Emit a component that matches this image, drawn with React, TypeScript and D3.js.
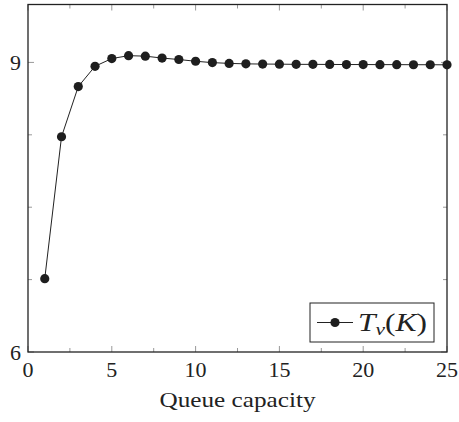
import React, { useEffect, useRef } from "react";
import * as d3 from "d3";

// queue capacity K = 1..25
const capacity = d3.range(1, 26);
// T_nu(K)
const throughput = [
  6.76, 8.23, 8.75, 8.96, 9.04, 9.07, 9.065, 9.045, 9.03, 9.012, 8.998, 8.99,
  8.985, 8.983, 8.982, 8.98, 8.98, 8.979, 8.978, 8.978, 8.977, 8.977, 8.976,
  8.976, 8.975,
];
const xMajor = [0, 5, 10, 15, 20, 25];
const xMinor = [2.5, 7.5, 12.5, 17.5, 22.5];
const yMajor = [6, 9];
const yMinor = [6.75, 7.5, 8.25];

const W = 459;
const H = 422;
const FONT = "Liberation Serif";

export default function App() {
  const ref = useRef<SVGSVGElement>(null);

  useEffect(() => {
    const svg = d3.select(ref.current);
    svg.selectAll("*").remove();

    const left = 28, right = 447, top = 4.5, bottom = 352;
    const x = d3.scaleLinear().domain([0, 25]).range([left, right]);
    const y = d3.scaleLinear().domain([6, 9.6]).range([bottom, top]);

    const g = svg.append("g");

    // ticks (inside, mirrored on all sides)
    const tickCol = "#999";
    const xt = [...xMajor.map((v) => ({ v, l: 6 })), ...xMinor.map((v) => ({ v, l: 4 }))];
    xt.forEach((t) => {
      g.append("line").attr("x1", x(t.v)).attr("x2", x(t.v))
        .attr("y1", bottom).attr("y2", bottom - t.l).attr("stroke", tickCol).attr("stroke-width", 1);
      g.append("line").attr("x1", x(t.v)).attr("x2", x(t.v))
        .attr("y1", top).attr("y2", top + t.l).attr("stroke", tickCol).attr("stroke-width", 1);
    });
    const yt = [...yMajor.map((v) => ({ v, l: 6 })), ...yMinor.map((v) => ({ v, l: 4 }))];
    yt.forEach((t) => {
      g.append("line").attr("x1", left).attr("x2", left + t.l)
        .attr("y1", y(t.v)).attr("y2", y(t.v)).attr("stroke", tickCol).attr("stroke-width", 1);
      g.append("line").attr("x1", right).attr("x2", right - t.l)
        .attr("y1", y(t.v)).attr("y2", y(t.v)).attr("stroke", tickCol).attr("stroke-width", 1);
    });

    // frame
    g.append("rect").attr("x", left).attr("y", top)
      .attr("width", right - left).attr("height", bottom - top)
      .attr("fill", "none").attr("stroke", "#222").attr("stroke-width", 1.3);

    // tick labels
    g.selectAll(".xl").data(xMajor).join("text").attr("class", "xl")
      .attr("x", (d) => x(d)).attr("y", 377)
      .attr("text-anchor", "middle")
      .style("font-family", FONT).attr("font-size", 22).attr("fill", "#222")
      .text((d) => String(d));
    g.selectAll(".yl").data(yMajor).join("text").attr("class", "yl")
      .attr("x", 21).attr("y", (d) => y(d) + 7.5)
      .attr("text-anchor", "end")
      .style("font-family", FONT).attr("font-size", 22).attr("fill", "#222")
      .text((d) => String(d));

    // axis label
    g.append("text").attr("x", (left + right) / 2).attr("y", 407)
      .attr("text-anchor", "middle")
      .style("font-family", FONT).attr("font-size", 22).attr("fill", "#222")
      .attr("textLength", 156).attr("lengthAdjust", "spacingAndGlyphs")
      .text("Queue capacity");

    // series
    const pts = capacity.map((k, i) => [k, throughput[i]] as [number, number]);
    const line = d3.line<[number, number]>().x((d) => x(d[0])).y((d) => y(d[1]));
    g.append("path").datum(pts).attr("d", line)
      .attr("fill", "none").attr("stroke", "#222").attr("stroke-width", 1);
    g.selectAll(".pt").data(pts).join("circle").attr("class", "pt")
      .attr("cx", (d) => x(d[0])).attr("cy", (d) => y(d[1]))
      .attr("r", 4.6).attr("fill", "#1e1e1e");

    // legend
    const lg = g.append("g");
    lg.append("rect").attr("x", 310).attr("y", 303).attr("width", 124).attr("height", 39)
      .attr("fill", "white").attr("stroke", "#222").attr("stroke-width", 1);
    lg.append("line").attr("x1", 317).attr("x2", 353).attr("y1", 322.5).attr("y2", 322.5)
      .attr("stroke", "#222").attr("stroke-width", 1);
    lg.append("circle").attr("cx", 335).attr("cy", 322.5).attr("r", 4.6).attr("fill", "#1e1e1e");
    const t = lg.append("text").attr("x", 358).attr("y", 331)
      .style("font-family", FONT).attr("font-size", 25).attr("fill", "#222")
      .attr("textLength", 69).attr("lengthAdjust", "spacingAndGlyphs");
    t.append("tspan").attr("font-style", "italic").text("T");
    t.append("tspan").attr("font-style", "italic").attr("font-size", 17).attr("dy", 4).text("ν");
    t.append("tspan").attr("dy", -4).text("(");
    t.append("tspan").attr("font-style", "italic").text("K");
    t.append("tspan").text(")");
  }, []);

  return (
    <svg ref={ref} width={W} height={H} style={{ position: "absolute", left: 0, top: 0, background: "white" }} />
  );
}
